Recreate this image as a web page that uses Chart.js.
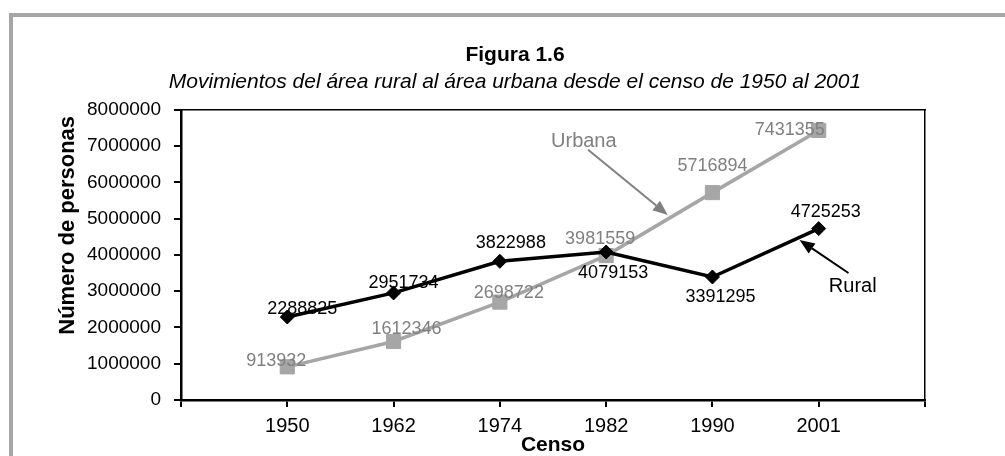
<!DOCTYPE html>
<html lang="es">
<head>
<meta charset="utf-8">
<title>Figura 1.6</title>
<script src="https://cdn.jsdelivr.net/npm/chart.js@4.4.1/dist/chart.umd.min.js"></script>
<style>
  html, body { margin: 0; padding: 0; background: #fff; overflow: hidden; }
  .frame { position: absolute; left: 9px; top: 13px; width: 1200px; height: 600px; border: 4px solid #a6a6a6; }
  #chartWrap { position: absolute; left: 0; top: 0; width: 1005px; height: 456px; }
</style>
</head>
<body>
<div class="frame"></div>
<div id="chartWrap"><canvas id="censoChart" width="1005" height="456"></canvas></div>
<script>
// Censos y población
const censos = ['1950', '1962', '1974', '1982', '1990', '2001'];
const rural = [2288825, 2951734, 3822988, 4079153, 3391295, 4725253];
const urbana = [913932, 1612346, 2698722, 3981559, 5716894, 7431355];
const yMin = 0;
const yMax = 8000000;
const yStep = 1000000;

// desplazamiento de cada etiqueta respecto a su punto (px)
const ruralLabelOffsets = [[15, -8], [10, -10], [11, -18], [7, 21], [8, 20], [7, -17]];
const urbanaLabelOffsets = [[-11, -6], [13, -12], [9, -9], [-6, -17], [0, -27], [-29, 0]];

// notas con flecha, en coordenadas del gráfico (índice de categoría, valor)
const notes = [
    { text: 'Urbana', color: '#808080', at: [3.79, 7120000], from: [3.83, 6900000], to: [4.58, 5100000] },
    { text: 'Rural', color: '#000000', at: [6.32, 3120000], from: [6.28, 3500000], to: [5.82, 4410000] }
];

// una categoría vacía a cada lado, como en el original
const labels = [''].concat(censos, ['']);
const pad = arr => [null].concat(arr, [null]);

const FONT = '"Liberation Sans", Arial, Helvetica, sans-serif';
Chart.defaults.font.family = FONT;
Chart.defaults.color = '#000';

const dataLabels = {
    id: 'dataLabels',
    afterDatasetsDraw(chart) {
        const ctx = chart.ctx;
        chart.data.datasets.forEach((ds, i) => {
            const meta = chart.getDatasetMeta(i);
            ctx.save();
            ctx.font = '18px ' + FONT;
            ctx.fillStyle = ds.labelColor;
            ctx.textAlign = 'center';
            ctx.textBaseline = 'middle';
            meta.data.forEach((pt, j) => {
                const v = ds.data[j];
                if (v == null) return;
                const off = ds.labelOffsets[j - 1];
                ctx.fillText(String(v), pt.x + off[0], pt.y + off[1]);
            });
            ctx.restore();
        });
    }
};

const arrowNotes = {
    id: 'arrowNotes',
    afterDatasetsDraw(chart) {
        const ctx = chart.ctx;
        const xs = chart.scales.x;
        const ys = chart.scales.y;
        const px = p => [xs.getPixelForValue(p[0]), ys.getPixelForValue(p[1])];
        notes.forEach(n => {
            const [tx, ty] = px(n.at);
            const [x1, y1] = px(n.from);
            const [x2, y2] = px(n.to);
            const ang = Math.atan2(y2 - y1, x2 - x1);
            const headLen = 15, headW = 6;
            const bx = x2 - Math.cos(ang) * headLen;
            const by = y2 - Math.sin(ang) * headLen;
            ctx.save();
            ctx.strokeStyle = n.color;
            ctx.fillStyle = n.color;
            ctx.lineWidth = 2;
            ctx.beginPath();
            ctx.moveTo(x1, y1);
            ctx.lineTo(bx, by);
            ctx.stroke();
            ctx.beginPath();
            ctx.moveTo(x2, y2);
            ctx.lineTo(bx + Math.sin(ang) * headW, by - Math.cos(ang) * headW);
            ctx.lineTo(bx - Math.sin(ang) * headW, by + Math.cos(ang) * headW);
            ctx.closePath();
            ctx.fill();
            ctx.font = '20px ' + FONT;
            ctx.textAlign = 'center';
            ctx.textBaseline = 'middle';
            ctx.fillText(n.text, tx, ty);
            ctx.restore();
        });
    }
};

new Chart(document.getElementById('censoChart'), {
    type: 'line',
    data: {
        labels: labels,
        datasets: [
            {
                label: 'Rural',
                data: pad(rural),
                borderColor: '#000',
                backgroundColor: '#000',
                borderWidth: 3.5,
                tension: 0,
                pointStyle: 'rectRot',
                pointRadius: 7,
                pointBorderWidth: 1,
                labelColor: '#000',
                labelOffsets: ruralLabelOffsets
            },
            {
                label: 'Urbana',
                data: pad(urbana),
                borderColor: '#a6a6a6',
                backgroundColor: '#a6a6a6',
                borderWidth: 3.5,
                tension: 0,
                pointStyle: 'rect',
                pointRadius: 10,
                pointBorderWidth: 1,
                labelColor: '#808080',
                labelOffsets: urbanaLabelOffsets
            }
        ]
    },
    options: {
        responsive: false,
        devicePixelRatio: 1,
        animation: false,
        layout: { padding: { left: 25, right: 0, top: 0, bottom: 0 } },
        plugins: {
            legend: { display: false },
            tooltip: { enabled: false },
            title: {
                display: true,
                text: 'Figura 1.6',
                color: '#000',
                font: { size: 21, weight: 'bold' },
                padding: { top: 43, bottom: 1 }
            },
            subtitle: {
                display: true,
                text: 'Movimientos del área rural al área urbana desde el censo de 1950 al 2001',
                color: '#000',
                font: { size: 21, style: 'italic' },
                padding: { top: 0, bottom: 15.4 }
            }
        },
        scales: {
            x: {
                offset: false,
                ticks: { color: '#000', font: { size: 20 }, padding: 7, autoSkip: false, maxRotation: 0 },
                grid: { drawOnChartArea: false, tickLength: 7, color: '#000', lineWidth: 2 },
                border: { color: '#000', width: 2.5 },
                title: {
                    display: true,
                    text: 'Censo',
                    color: '#000',
                    font: { size: 21, weight: 'bold', lineHeight: 1 },
                    padding: { top: 0, bottom: 0 }
                },
                afterFit: s => { s.height = 56; }
            },
            x2: {
                position: 'top',
                offset: false,
                ticks: { display: false },
                grid: { display: false, drawTicks: false },
                border: { color: '#000', width: 1.5 },
                afterFit: s => { s.height = 0; }
            },
            y: {
                min: yMin,
                max: yMax,
                ticks: { stepSize: yStep, color: '#000', font: { size: 19 }, padding: 13, callback: v => String(v) },
                grid: { drawOnChartArea: false, tickLength: 7, color: '#000', lineWidth: 2 },
                border: { color: '#000', width: 2.5 },
                title: {
                    display: true,
                    text: 'Número de personas ',
                    align: 'end',
                    color: '#000',
                    font: { size: 22, weight: 'bold' },
                    padding: { top: 30, bottom: 0 }
                },
                afterFit: s => { s.width = 156; }
            },
            y2: {
                position: 'right',
                min: yMin,
                max: yMax,
                ticks: { display: false },
                grid: { display: false, drawTicks: false },
                border: { color: '#000', width: 1.5 },
                afterFit: s => { s.width = 80; }
            }
        }
    },
    plugins: [dataLabels, arrowNotes]
});
</script>
</body>
</html>
